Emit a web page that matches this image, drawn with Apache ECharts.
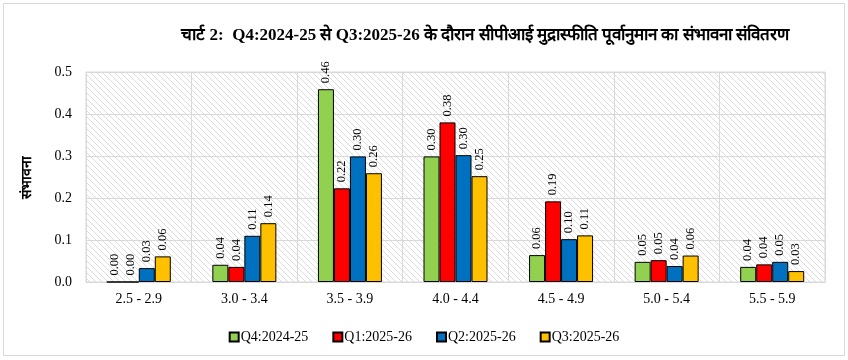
<!DOCTYPE html>
<html><head><meta charset="utf-8">
<script src="https://cdn.jsdelivr.net/npm/echarts@6/dist/echarts.min.js"></script>
<style>html,body{margin:0;padding:0;background:#fff}#c{width:848px;height:360px}</style>
</head><body><div id="c"></div>
<script>
const categories = ['2.5 - 2.9','3.0 - 3.4','3.5 - 3.9','4.0 - 4.4','4.5 - 4.9','5.0 - 5.4','5.5 - 5.9'];
const seriesNames = ['Q4:2024-25','Q1:2025-26','Q2:2025-26','Q3:2025-26'];
const q4_2024_25 = [0.00, 0.04, 0.46, 0.30, 0.06, 0.05, 0.04];
const q1_2025_26 = [0.00, 0.04, 0.22, 0.38, 0.19, 0.05, 0.04];
const q2_2025_26 = [0.03, 0.11, 0.30, 0.30, 0.10, 0.04, 0.05];
const q3_2025_26 = [0.06, 0.14, 0.26, 0.25, 0.11, 0.06, 0.03];
const values = [
  [0.0, 0.041, 0.459, 0.299, 0.064, 0.048, 0.036],
  [0.0, 0.036, 0.223, 0.380, 0.192, 0.052, 0.042],
  [0.033, 0.110, 0.299, 0.302, 0.102, 0.038, 0.048],
  [0.061, 0.140, 0.259, 0.252, 0.111, 0.063, 0.026]
];
const colors = ['#92d050','#ff0000','#0070c0','#ffc000'];
const yTicks = ['0.0','0.1','0.2','0.3','0.4','0.5'];

// hatch pattern
const pc = document.createElement('canvas');
pc.width = 6; pc.height = 6;
const g = pc.getContext('2d');
g.fillStyle = '#ffffff'; g.fillRect(0,0,6,6);
g.strokeStyle = '#dcdcdc'; g.lineWidth = 1;
g.beginPath();
g.moveTo(-1,-1); g.lineTo(7,7);
g.moveTo(-4,2); g.lineTo(2,8);
g.moveTo(2,-4); g.lineTo(8,2);
g.stroke();

const serif = "'Liberation Serif', 'DejaVu Serif', serif";
const chart = echarts.init(document.getElementById('c'));
chart.setOption({
  animation: false,
  backgroundColor: '#fff',
  title: {
    text: 'चार्ट 2:  Q4:2024-25 से Q3:2025-26 के दौरान सीपीआई मुद्रास्फीति पूर्वानुमान का संभावना संवितरण',
    left: 480, top: 22, textAlign: 'center',
    textStyle: {fontFamily: serif, fontSize: 17, fontWeight: 'bold', color: '#000'}
  },
  graphic: [{type:'rect', shape:{x:3.5,y:3.5,width:841,height:352}, style:{fill:'none', stroke:'#d9d9d9', lineWidth:1}, silent:true}],
  legend: {
    data: seriesNames, left: 'center', top: 325, itemWidth: 9, itemHeight: 9, itemGap: 24,
    icon: 'rect',
    textStyle: {fontFamily: serif, fontSize: 14, color: '#000', padding:[0,0,0,-3]}
  },
  grid: {left: 86, right: 23, top: 72, bottom: 78, show: true,
    backgroundColor: {image: pc, repeat: 'repeat'}, borderColor: '#d9d9d9', borderWidth: 1},
  xAxis: {
    type: 'category', data: categories,
    axisLine: {show: true, lineStyle: {color: '#d9d9d9'}},
    axisTick: {show: false},
    splitLine: {show: true, lineStyle: {color: '#d9d9d9', width: 1}},
    axisLabel: {fontFamily: serif, fontSize: 14, color: '#000', margin: 10}
  },
  yAxis: {
    type: 'value', min: 0, max: 0.5, interval: 0.1,
    name: 'संभावना', nameLocation: 'middle', nameGap: 52, nameRotate: 90,
    nameTextStyle: {fontFamily: serif, fontSize: 14, fontWeight: 'bold', color: '#000'},
    axisLine: {show: false}, axisTick: {show: false},
    splitLine: {lineStyle: {color: '#d9d9d9', width: 1}},
    axisLabel: {fontFamily: serif, fontSize: 14, color: '#000', margin: 14,
      formatter: (v) => yTicks[Math.round(v*10)]}
  },
  series: seriesNames.map((n, i) => ({
    name: n, type: 'bar', data: values[i], barWidth: 16, barGap: '0%',
    itemStyle: {color: colors[i], borderColor: '#000', borderWidth: 1},
    label: {show: true, position: 'top', rotate: 90, align: 'left', verticalAlign: 'middle', distance: 6,
      fontFamily: serif, fontSize: 12.5, color: '#000',
      formatter: (p) => [q4_2024_25, q1_2025_26, q2_2025_26, q3_2025_26][i][p.dataIndex].toFixed(2)}
  }))
});
</script></body></html>
